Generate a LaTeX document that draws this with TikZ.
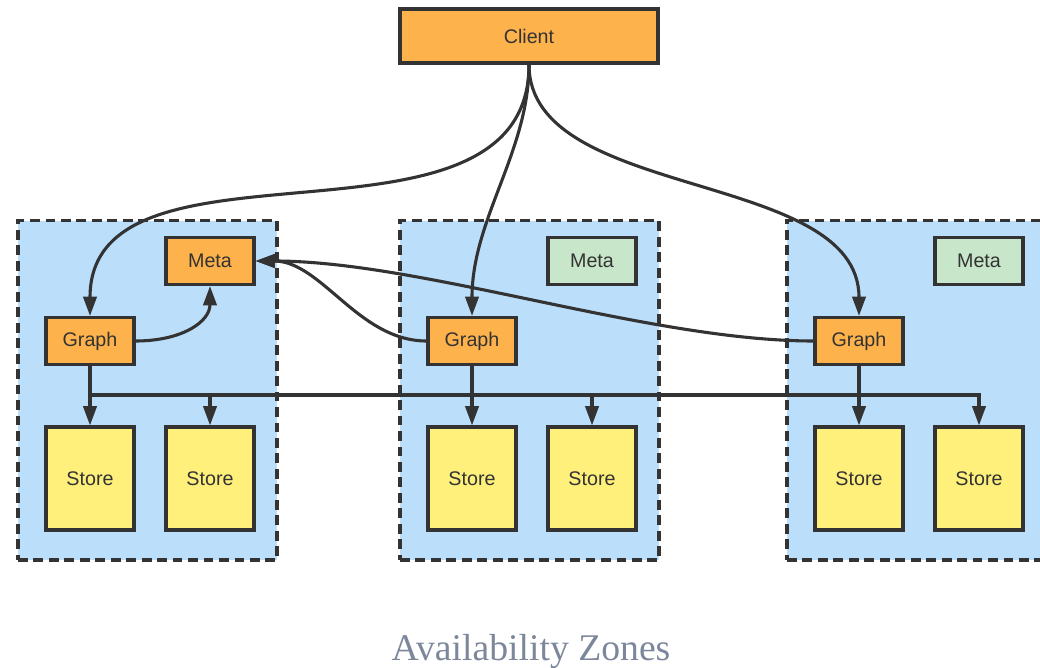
\documentclass[tikz,border=0pt]{standalone}
\usepackage{fontspec}
\setmainfont{Liberation Serif}
\setsansfont{Liberation Sans}
\usetikzlibrary{arrows.meta,positioning}
\definecolor{ink}{HTML}{333333}
\definecolor{orangefill}{HTML}{FDB24B}
\definecolor{storefill}{HTML}{FEF07B}
\definecolor{zonefill}{HTML}{BBDEFB}
\definecolor{metafill}{HTML}{C8E6C9}
\definecolor{captionink}{HTML}{7D879B}
\tikzset{
  box/.style={draw=ink, line width=2.2pt, text=ink, inner sep=0pt,
    font=\sffamily\fontsize{14}{16}\selectfont,
    minimum width=2.2cm, minimum height=1.175cm},
  orangebox/.style={box, fill=orangefill},
  metabox/.style={box, fill=metafill},
  storebox/.style={box, fill=storefill, minimum height=2.575cm},
  zonebox/.style={draw=ink, line width=2.2pt, dash pattern=on 7pt off 4pt,
    fill=zonefill, minimum width=6.475cm, minimum height=8.475cm},
  arr/.style={-{Triangle[length=4.8mm, width=3.3mm]}, line width=2.2pt, draw=ink},
  link/.style={line width=2.2pt, draw=ink}
}
\begin{document}
\begin{tikzpicture}[x=0.025cm, y=-0.025cm]
    \useasboundingbox (0,0) rectangle (1040,668);
    % three zones, same layout
    \foreach \z/\dx in {1/0,2/382,3/769} {
      \node[zonebox] (zone\z) at (147.5+\dx,390.5) {};
      \node[orangebox] (graph\z) at (90+\dx,341) {Graph};
      \node[storebox] (storea\z) at (90+\dx,478.5) {Store};
      \node[storebox] (storeb\z) at (210+\dx,478.5) {Store};
    }
    \node[orangebox] (meta1) at (210,261) {Meta};
    \node[metabox] (meta2) at (592,261) {Meta};
    \node[metabox] (meta3) at (979,261) {Meta};
    \node[orangebox, minimum width=6.45cm, minimum height=1.35cm] (client) at (529,36) {Client};

    % client to graphs
    \draw[arr] (client.south) .. controls +(0,207) and +(0,-197) .. (graph1.north);
    \draw[arr] (client.south) .. controls +(0,87) and +(0,-97) .. (graph2.north);
    \draw[arr] (client.south) .. controls +(0,137) and +(0,-147) .. (graph3.north);

    % graphs to meta
    \draw[arr] (graph1.east) .. controls +(46,0) and +(0,36) .. (meta1.south);
    \draw[arr] (graph2.west) .. controls +(-68,0) and +(66,0) .. (meta1.east);
    \draw[arr] (graph3.west) .. controls +(-165,0) and +(166,0) .. (meta1.east);

    % graphs to stores
    \coordinate (bus) at (90,395);
    \foreach \z in {1,2,3}
      \draw[arr] (graph\z) -- (storea\z);
    \draw[arr] (bus) -| (storeb3.north);
    \foreach \z in {1,2}
      \draw[arr] (storeb\z.north |- bus) -- (storeb\z);

    \node[font=\fontsize{26.8}{30}\selectfont, text=captionink, anchor=base] (caption) at (531,660) {Availability Zones};
  \end{tikzpicture}
\end{document}
